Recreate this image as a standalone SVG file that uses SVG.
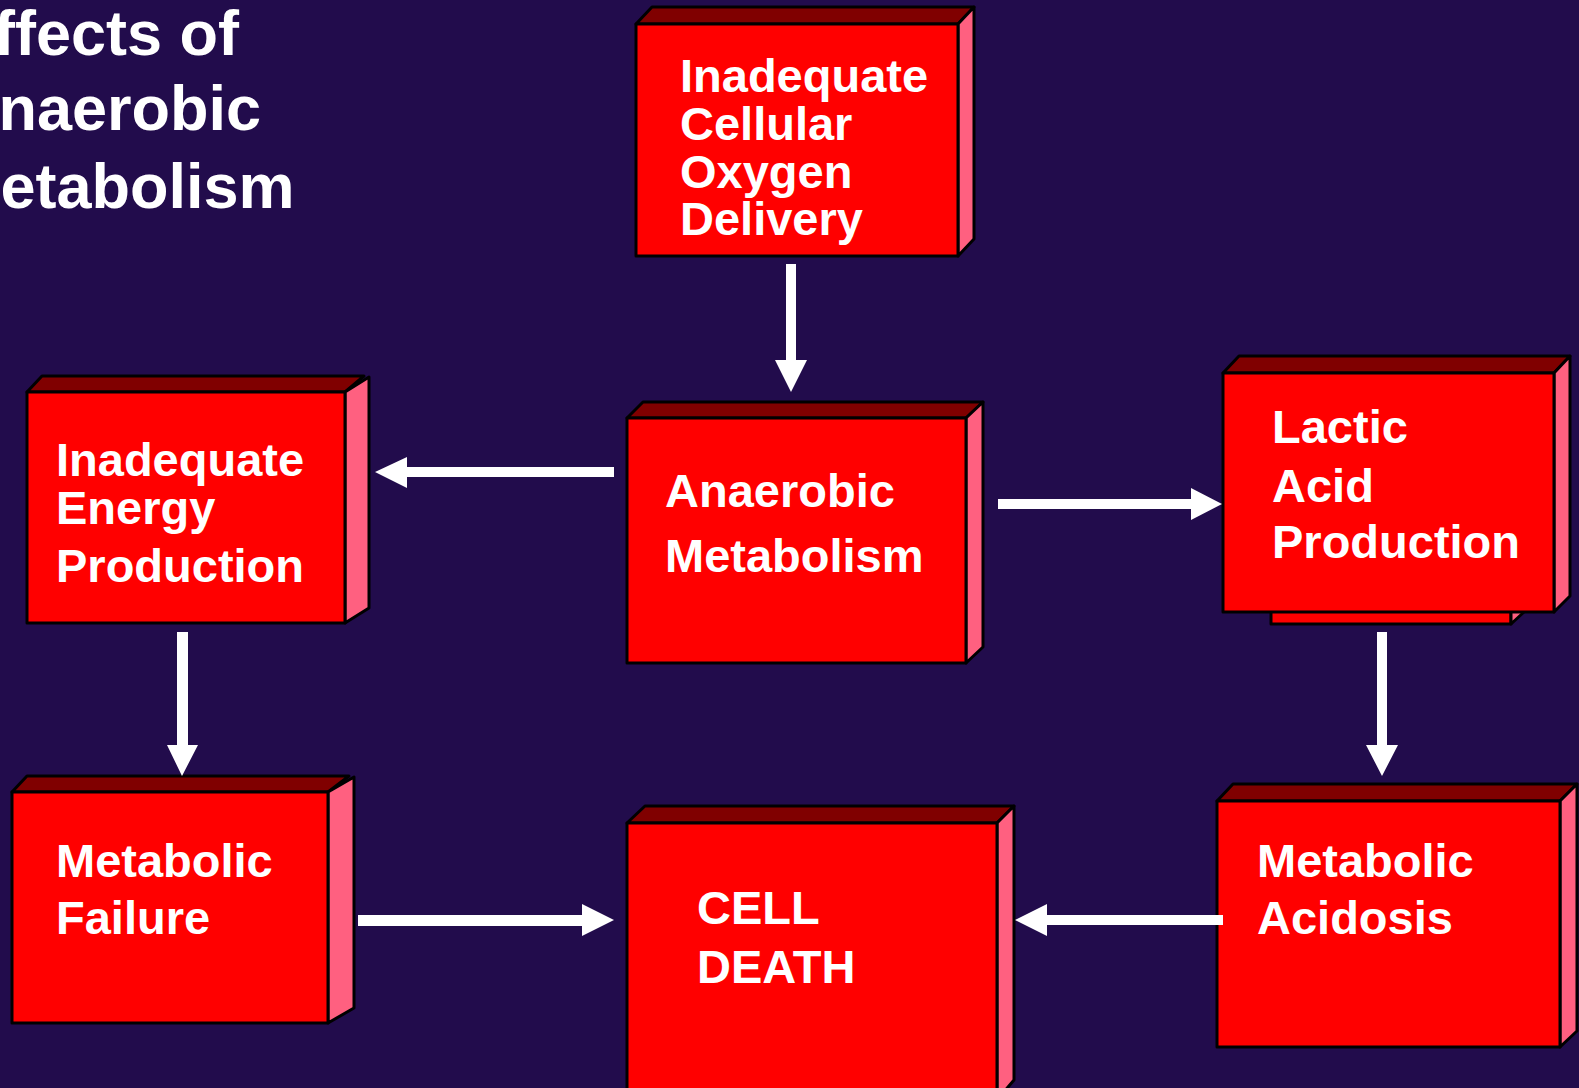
<svg xmlns="http://www.w3.org/2000/svg" width="1579" height="1088" viewBox="0 0 1579 1088">
<style>
.front{fill:#ff0000;stroke:#000;stroke-width:3;stroke-linejoin:round}
.top{fill:#800000;stroke:#000;stroke-width:3;stroke-linejoin:round}
.side{fill:#ff6080;stroke:#000;stroke-width:3;stroke-linejoin:round}
.lbl{font-family:"Liberation Sans",Arial,sans-serif;font-weight:bold;font-size:47px;fill:#fff}
.title{font-family:"Liberation Sans",Arial,sans-serif;font-weight:bold;font-size:63px;fill:#fff}
.arr{fill:#fff}
</style>
<rect width="1579" height="1088" fill="#220c4c"/>
<g id="title">
<text class="title" x="-48" y="55">Effects of</text>
<text class="title" x="-47" y="130">Anaerobic</text>
<text class="title" x="-52" y="208">Metabolism</text>
</g>
<g id="node-oxygen">
<polygon class="top" points="636,24 652,7 974,7 958,24"/>
<polygon class="side" points="958,24 974,7 974,239 958,256"/>
<rect class="front" x="636" y="24" width="322" height="232"/>
<text class="lbl" x="680" y="92">Inadequate</text>
<text class="lbl" x="680" y="140">Cellular</text>
<text class="lbl" x="680" y="188">Oxygen</text>
<text class="lbl" x="680" y="235">Delivery</text>
</g>
<g id="node-anaerobic">
<polygon class="top" points="627,418 643,402 983,402 966,418"/>
<polygon class="side" points="966,418 983,402 983,647 966,663"/>
<rect class="front" x="627" y="418" width="339" height="245"/>
<text class="lbl" x="665" y="507">Anaerobic</text>
<text class="lbl" x="665" y="572">Metabolism</text>
</g>
<g id="node-energy">
<polygon class="top" points="27,392 42,376 364,376 345,392"/>
<polygon class="side" points="345,392 369,377 369,608 345,623"/>
<rect class="front" x="27" y="392" width="318" height="231"/>
<text class="lbl" x="56" y="476">Inadequate</text>
<text class="lbl" x="56" y="524">Energy</text>
<text class="lbl" x="56" y="582">Production</text>
</g>
<g id="node-lactic">
<rect class="front" x="1271" y="560" width="240" height="64"/>
<polygon class="side" points="1511,560 1524,547 1524,612 1511,624"/>
<polygon class="top" points="1223,373 1239,356 1570,356 1554,373"/>
<polygon class="side" points="1554,373 1570,356 1570,596 1554,612"/>
<rect class="front" x="1223" y="373" width="331" height="239"/>
<text class="lbl" x="1272" y="443">Lactic</text>
<text class="lbl" x="1272" y="502">Acid</text>
<text class="lbl" x="1272" y="558">Production</text>
</g>
<g id="node-failure">
<polygon class="top" points="12,792 27,776 349,776 328,792"/>
<polygon class="side" points="328,792 354,777 354,1008 328,1023"/>
<rect class="front" x="12" y="792" width="316" height="231"/>
<text class="lbl" x="56" y="877">Metabolic</text>
<text class="lbl" x="56" y="934">Failure</text>
</g>
<g id="node-death">
<polygon class="top" points="627,823 645,806 1014,806 997,823"/>
<polygon class="side" points="997,823 1014,806 1014,1080 997,1100"/>
<rect class="front" x="627" y="823" width="370" height="280"/>
<text class="lbl" x="697" y="924">CELL</text>
<text class="lbl" x="697" y="983">DEATH</text>
</g>
<g id="node-acidosis">
<polygon class="top" points="1217,801 1233,784 1577,784 1560,801"/>
<polygon class="side" points="1560,801 1577,784 1577,1031 1560,1047"/>
<rect class="front" x="1217" y="801" width="343" height="246"/>
<text class="lbl" x="1257" y="877">Metabolic</text>
<text class="lbl" x="1257" y="934">Acidosis</text>
</g>
<g id="connectors">
<polygon class="arr" points="786,264 796,264 796,360 807,360 791,392 775,360 786,360"/>
<polygon class="arr" points="614,467 614,477 407,477 407,488 375,472 407,457 407,467"/>
<polygon class="arr" points="998,499 1191,499 1191,488 1222,504 1191,520 1191,509 998,509"/>
<polygon class="arr" points="177,632 188,632 188,745 198,745 182,776 167,745 177,745"/>
<polygon class="arr" points="1377,632 1387,632 1387,745 1398,745 1382,776 1366,745 1377,745"/>
<polygon class="arr" points="358,915 582,915 582,904 614,920 582,936 582,926 358,926"/>
<polygon class="arr" points="1223,915 1223,925 1047,925 1047,936 1015,920 1047,904 1047,915"/>
</g>
</svg>
